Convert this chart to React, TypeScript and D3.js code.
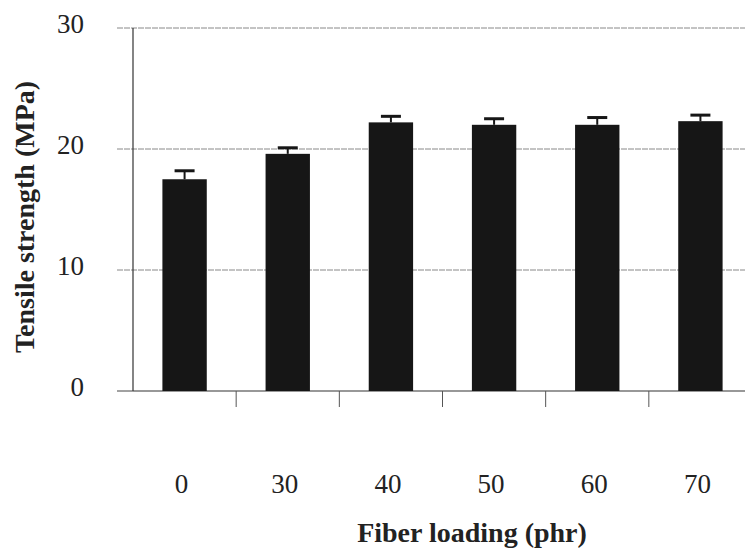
import React from "react";
import * as d3 from "d3";

const categories = ["0", "30", "40", "50", "60", "70"];
const values = [17.5, 19.6, 22.2, 22.0, 22.0, 22.3];
const errors = [0.7, 0.5, 0.5, 0.5, 0.6, 0.5];
const yTicks = [0, 10, 20, 30];

export default function App() {
  const W = 745, H = 550;
  const x = d3.scaleBand().domain(categories).range([133, 752]).paddingInner(0.57).paddingOuter(0.285);
  const y = d3.scaleLinear().domain([0, 30]).range([391, 28]);
  const font = "'Liberation Serif', 'Times New Roman', serif";
  const step = x.step();
  const bounds = categories.map((_, i) => 133 + step * (i + 1));
  return (
    <svg width={W} height={H} style={{ position: "absolute", left: 0, top: 0, background: "#fff" }}>
      {yTicks.filter(t => t > 0).map(t => (
        <line key={"g" + t} x1={117} x2={W} y1={y(t)} y2={y(t)} stroke="#888" strokeWidth={1} strokeDasharray="6,1" />
      ))}
      <line x1={117} x2={133} y1={y(0)} y2={y(0)} stroke="#444" strokeWidth={1} />
      <line x1={133} x2={133} y1={y(30)} y2={y(0)} stroke="#333" strokeWidth={1.2} />
      <line x1={133} x2={W} y1={y(0)} y2={y(0)} stroke="#333" strokeWidth={1.2} />
      {bounds.map((b, i) => (
        <line key={"xt" + i} x1={b} x2={b} y1={y(0)} y2={y(0) + 16} stroke="#555" strokeWidth={1} />
      ))}
      {categories.map((c, i) => {
        const cx = (x(c) as number) + x.bandwidth() / 2;
        const top = y(values[i] + errors[i]);
        return (
          <g key={c}>
            <rect x={x(c)} y={y(values[i])} width={x.bandwidth()} height={y(0) - y(values[i])} fill="#161616" />
            <line x1={cx} x2={cx} y1={top} y2={y(values[i])} stroke="#161616" strokeWidth={2} />
            <line x1={cx - 10} x2={cx + 10} y1={top} y2={top} stroke="#161616" strokeWidth={3} />
            <text x={cx - 3} y={493} textAnchor="middle" fontFamily={font} fontSize={27} fill="#222">{c}</text>
          </g>
        );
      })}
      {yTicks.map(t => (
        <text key={"yl" + t} x={84} y={y(t) + 5} textAnchor="end" fontFamily={font} fontSize={27} fill="#222">{t}</text>
      ))}
      <text x={472} y={542} textAnchor="middle" fontFamily={font} fontSize={28} fontWeight="bold" fill="#222">Fiber loading (phr)</text>
      <text transform="translate(34,217) rotate(-90)" textAnchor="middle" fontFamily={font} fontSize={28} fontWeight="bold" fill="#222">Tensile strength (MPa)</text>
    </svg>
  );
}
